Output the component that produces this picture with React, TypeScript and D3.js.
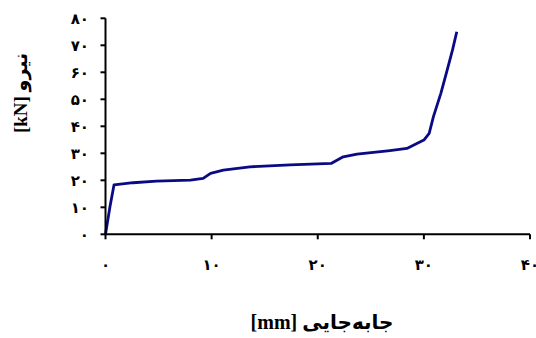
import React from 'react';
import * as d3 from 'd3';

// displacement [mm] and force [kN]
const dispMm = [0, 0.42, 0.8, 2.6, 4.8, 8.0, 9.2, 9.9, 11.1, 13.6, 17.4, 21.3, 22.4, 23.7, 26.8, 28.4, 30.0, 30.5, 30.9, 31.6, 32.2, 32.7, 33.1];
const forceKn = [0, 10.2, 18.3, 19.1, 19.7, 20.1, 20.7, 22.6, 23.8, 25.0, 25.7, 26.3, 28.7, 29.7, 31.0, 31.8, 34.9, 37.4, 43.6, 52.2, 60.9, 68.3, 75.0];

const xTicks = [0, 10, 20, 30, 40];
const yTicks = [0, 10, 20, 30, 40, 50, 60, 70, 80];

const faDigits = (n: number) => String(n).replace(/\d/g, d => '۰۱۲۳۴۵۶۷۸۹'[+d]);

const W = 536;
const H = 338;
const font = "'Liberation Serif', 'DejaVu Serif', 'DejaVu Sans', serif";

export default function App() {
  const x = d3.scaleLinear().domain([0, 40]).range([105.5, 530]);
  const y = d3.scaleLinear().domain([0, 80]).range([234.3, 18.3]);

  const pts = dispMm.map((d, i) => [d, forceKn[i]] as [number, number]);
  const line = d3.line<[number, number]>()
    .x(d => x(d[0]))
    .y(d => y(d[1]));

  return (
    <svg width={W} height={H} style={{ position: 'absolute', left: 0, top: 0, background: '#fff' }}>
      {/* curve */}
      <path d={line(pts) || ''} fill="none" stroke="#0a0a85" strokeWidth={2.8} strokeLinejoin="round" />

      {/* y axis */}
      <line x1={x(0)} x2={x(0)} y1={y(80)} y2={y(0)} stroke="#000" strokeWidth={2} />
      {yTicks.map(t => (
        <g key={'y' + t}>
          <line x1={x(0) - 5} x2={x(0)} y1={y(t)} y2={y(t)} stroke="#000" strokeWidth={2} />
          <text x={89} y={y(t)} dy="0.35em" textAnchor="end" fontFamily={font} fontWeight="bold" fontSize={15} letterSpacing={2.5}>{faDigits(t)}</text>
        </g>
      ))}

      {/* x axis */}
      <line x1={x(0)} x2={x(40)} y1={y(0)} y2={y(0)} stroke="#000" strokeWidth={2} />
      {xTicks.map(t => (
        <g key={'x' + t}>
          <line x1={x(t)} x2={x(t)} y1={y(0)} y2={y(0) + 5} stroke="#000" strokeWidth={2} />
          <text x={x(t)} y={265} dy="0.35em" textAnchor="middle" fontFamily={font} fontWeight="bold" fontSize={15} letterSpacing={2.5}>{faDigits(t)}</text>
        </g>
      ))}

      {/* axis titles */}
      <text x={322} y={322} dy="0.35em" textAnchor="middle" direction="rtl" fontFamily={font} fontWeight="bold" fontSize={20}>جابه‌جایی [mm]</text>
      <text transform="translate(20,93) rotate(-90)" dy="0.35em" textAnchor="middle" direction="rtl" fontFamily={font} fontWeight="bold" fontSize={19}>نیرو [kN]</text>
    </svg>
  );
}
